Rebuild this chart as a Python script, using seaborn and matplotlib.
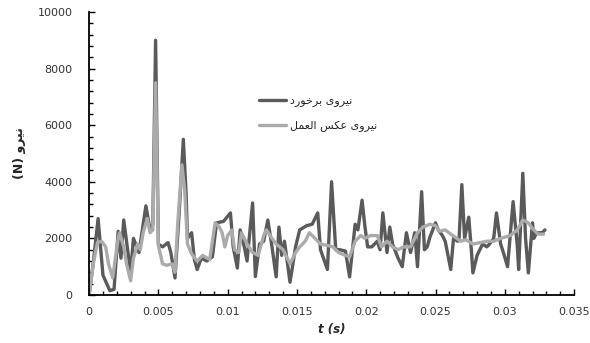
import pandas as pd
import matplotlib
matplotlib.use("Agg")
import matplotlib.pyplot as plt
from matplotlib.ticker import MultipleLocator, FuncFormatter
import seaborn as sns

sns.set_theme(style="white")
plt.rcParams["font.family"] = ["DejaVu Sans"]

# impact force (dark series)
t_impact = [0.0000, 0.0003, 0.00065, 0.0010, 0.0015, 0.0018, 0.0021, 0.0023, 0.0025, 0.0030,
            0.0032, 0.0036, 0.0041, 0.0044, 0.0046, 0.0048, 0.0050, 0.0053, 0.0057, 0.0059,
            0.0062, 0.0065, 0.0068, 0.0070, 0.0071, 0.0074, 0.0076, 0.0078, 0.0081, 0.0085,
            0.0089, 0.0092, 0.0097, 0.0102, 0.0104, 0.0107, 0.0109, 0.0112, 0.0114, 0.0118,
            0.0120, 0.0123, 0.0126, 0.0129, 0.0132, 0.0135, 0.0137, 0.0139, 0.0141, 0.0145,
            0.0149, 0.0152, 0.0157, 0.0161, 0.0165, 0.0167, 0.0172, 0.0175, 0.0178, 0.0181,
            0.0185, 0.0188, 0.0192, 0.0194, 0.0197, 0.0199, 0.0201, 0.0204, 0.0208, 0.0210,
            0.0212, 0.0215, 0.0217, 0.0219, 0.0223, 0.0226, 0.0229, 0.0232, 0.0235, 0.0237,
            0.0240, 0.0242, 0.0244, 0.0246, 0.0250, 0.0252, 0.0255, 0.0257, 0.0261, 0.0263,
            0.0266, 0.0267, 0.0269, 0.0271, 0.0274, 0.0276, 0.0277, 0.0280, 0.0284, 0.0287,
            0.0289, 0.0292, 0.0294, 0.0297, 0.0299, 0.0302, 0.0306, 0.0309, 0.0310, 0.0313,
            0.0315, 0.0317, 0.0320, 0.0321, 0.0323, 0.0327, 0.0329]
f_impact = [0, 1130, 2700, 700, 150, 200, 2250, 1300, 2650, 780,
            2000, 1500, 3150, 2300, 2500, 9000, 1800, 1700, 1850, 1500,
            600, 2900, 5500, 3600, 2000, 2200, 1250, 900, 1300, 1200,
            1350, 2550, 2600, 2900, 1700, 950, 2300, 1700, 1200, 3250,
            650, 1800, 1900, 2650, 1700, 640, 2400, 1400, 1900, 450,
            1700, 2300, 2450, 2500, 2900, 1600, 900, 4000, 1600, 1600,
            1550, 640, 2500, 2300, 3350, 2450, 1700, 1700, 1900, 1600,
            2900, 1500, 2400, 1800, 1300, 1000, 2200, 1500, 2200, 1000,
            3650, 1600, 1700, 2050, 2550, 2300, 2100, 1900, 900, 2000,
            1900, 2000, 3900, 2000, 2750, 1500, 780, 1400, 1800, 1700,
            1800, 2000, 2900, 1800, 1500, 1000, 3300, 1750, 900, 4300,
            2000, 780, 2550, 2000, 2200, 2200, 2300]

# reaction force (light series)
t_reaction = [0.0000, 0.0003, 0.0006, 0.0009, 0.0012, 0.0014, 0.0017, 0.0019, 0.0021, 0.0022,
              0.0025, 0.0027, 0.0030, 0.0032, 0.0035, 0.0037, 0.0039, 0.0042, 0.0044, 0.0046,
              0.0048, 0.0050, 0.0053, 0.0056, 0.0060, 0.0062, 0.0064, 0.0067, 0.0069, 0.0071,
              0.0074, 0.0078, 0.0082, 0.0087, 0.0091, 0.0094, 0.0096, 0.0098, 0.0100, 0.0103,
              0.0105, 0.0108, 0.0110, 0.0114, 0.0118, 0.0122, 0.0126, 0.0128, 0.0132, 0.0135,
              0.0140, 0.0145, 0.0149, 0.0152, 0.0156, 0.0159, 0.0163, 0.0167, 0.0172, 0.0176,
              0.0180, 0.0185, 0.0188, 0.0192, 0.0196, 0.0199, 0.0203, 0.0208, 0.0211, 0.0215,
              0.0219, 0.0223, 0.0227, 0.0232, 0.0237, 0.0241, 0.0246, 0.0250, 0.0253, 0.0257,
              0.0261, 0.0264, 0.0268, 0.0272, 0.0277, 0.0282, 0.0287, 0.0292, 0.0297, 0.0304,
              0.0309, 0.0313, 0.0317, 0.0320, 0.0324, 0.0328]
f_reaction = [0, 1100, 1850, 1900, 1700, 1100, 600, 1300, 2000, 2200,
              1700, 1100, 500, 1300, 1800, 1600, 2200, 2700, 2200, 2300,
              7500, 1750, 1100, 1050, 1100, 800, 2550, 4600, 3700, 1800,
              1450, 1200, 1400, 1250, 2550, 2400, 2200, 1700, 2100, 2300,
              1600, 1500, 2200, 1800, 1500, 1400, 2100, 2300, 2000, 1800,
              1600, 1100, 1500, 1700, 1900, 2200, 2000, 1800, 1750, 1700,
              1500, 1400, 1350, 1900, 2100, 2000, 2100, 2100, 1700, 1900,
              1700, 1600, 1700, 1700, 2200, 2400, 2500, 2450, 2250, 2300,
              2150, 2050, 1900, 1950, 1800, 1850, 1900, 1900, 2000, 2100,
              2300, 2650, 2550, 2350, 2150, 2150]

label_impact = "نیروی برخورد"
label_reaction = "نیروی عکس العمل"
y_title = "نیرو"

# contextual letter forms (isolated, final, initial, medial); matplotlib does no shaping
FORMS = {
    "ا": ("\ufe8d", "\ufe8e", None, None),
    "ب": ("\ufe8f", "\ufe90", "\ufe91", "\ufe92"),
    "خ": ("\ufea5", "\ufea6", "\ufea7", "\ufea8"),
    "د": ("\ufea9", "\ufeaa", None, None),
    "ر": ("\ufead", "\ufeae", None, None),
    "س": ("\ufeb1", "\ufeb2", "\ufeb3", "\ufeb4"),
    "ع": ("\ufec9", "\ufeca", "\ufecb", "\ufecc"),
    "ک": ("\ufed9", "\ufeda", "\ufedb", "\ufedc"),
    "ل": ("\ufedd", "\ufede", "\ufedf", "\ufee0"),
    "م": ("\ufee1", "\ufee2", "\ufee3", "\ufee4"),
    "ن": ("\ufee5", "\ufee6", "\ufee7", "\ufee8"),
    "و": ("\ufeed", "\ufeee", None, None),
    "ی": ("\ufeef", "\ufef0", "\ufef3", "\ufef4"),
}


def shape(text):
    out = []
    for i, ch in enumerate(text):
        if ch not in FORMS:
            out.append(ch)
            continue
        prev = text[i - 1] if i > 0 else ""
        nxt = text[i + 1] if i + 1 < len(text) else ""
        iso, fin, ini, med = FORMS[ch]
        join_prev = prev in FORMS and FORMS[prev][2] is not None
        join_next = nxt in FORMS and ini is not None
        if join_prev and join_next:
            out.append(med)
        elif join_prev:
            out.append(fin)
        elif join_next:
            out.append(ini)
        else:
            out.append(iso)
    return "".join(reversed(out))


df_imp = pd.DataFrame({"t": t_impact, "F": f_impact})
df_rea = pd.DataFrame({"t": t_reaction, "F": f_reaction})

fig = plt.figure(figsize=(5.9, 3.43), dpi=100)
ax = fig.add_axes([0.151, 0.14, 0.822, 0.825])

sns.lineplot(data=df_imp, x="t", y="F", ax=ax, sort=False, estimator=None,
             color="#5a5a5a", linewidth=2.4, label=shape(label_impact))
sns.lineplot(data=df_rea, x="t", y="F", ax=ax, sort=False, estimator=None,
             color="#ababab", linewidth=2.4, label=shape(label_reaction))
for ln in ax.lines:
    ln.set_solid_joinstyle("round")

ax.set_xlim(0, 0.035)
ax.set_ylim(0, 10000)
ax.xaxis.set_major_locator(MultipleLocator(0.005))
ax.xaxis.set_minor_locator(MultipleLocator(0.001))
ax.yaxis.set_major_locator(MultipleLocator(2000))
ax.yaxis.set_minor_locator(MultipleLocator(400))
ax.xaxis.set_major_formatter(FuncFormatter(lambda v, p: f"{round(v, 4):g}"))
ax.yaxis.set_major_formatter(FuncFormatter(lambda v, p: f"{v:.0f}"))

for side in ["top", "right"]:
    ax.spines[side].set_visible(False)
for side in ["left", "bottom"]:
    ax.spines[side].set_color("black")
    ax.spines[side].set_linewidth(1.3)

ax.tick_params(axis="both", which="both", direction="in", colors="black",
               labelcolor="#333333", labelsize=8, bottom=True, left=True)
ax.tick_params(which="major", length=4, width=1)
ax.tick_params(which="minor", length=3, width=1)
ax.tick_params(axis="x", pad=9)
ax.tick_params(axis="y", pad=12)

ax.set_xlabel("t (s)", fontsize=8.5, fontweight="bold", fontstyle="italic", labelpad=4)
ax.set_ylabel("(N) " + shape(y_title), fontsize=9, fontweight="bold", labelpad=8)

leg = ax.legend(loc="upper left", bbox_to_anchor=(0.33, 0.74), frameon=False,
                fontsize=8, handlelength=2.4, labelspacing=1.25, handletextpad=0.4)

fig.savefig("out.png", dpi=100)
plt.close(fig)
